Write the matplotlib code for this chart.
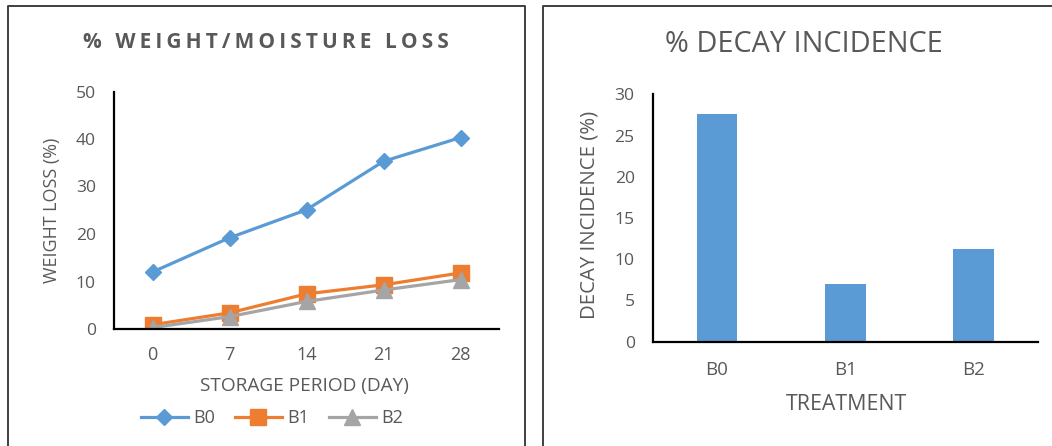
import matplotlib
matplotlib.use("Agg")
import matplotlib.pyplot as plt
from matplotlib.lines import Line2D

days = ['0', '7', '14', '21', '28']
b0_loss = [12.0, 19.2, 25.1, 35.3, 40.3]
b1_loss = [0.9, 3.4, 7.4, 9.3, 11.8]
b2_loss = [0.3, 2.6, 5.8, 8.2, 10.4]

treatments = ['B0', 'B1', 'B2']
decay = [27.6, 7.0, 11.3]

blue, orange, grey = '#5B9BD5', '#ED7D31', '#A5A5A5'
txt = '#595959'

plt.rcParams['font.family'] = ['Open Sans', 'DejaVu Sans']

fig = plt.figure(figsize=(10.52, 4.46), dpi=100)

# panel borders (two separate chart boxes)
W, H = 1052, 446
for x0, x1 in [(8, 525), (543, 1060)]:
    xs = [x0 / W, x0 / W, x1 / W, x1 / W]
    ys = [-0.01, 1 - 6 / H, 1 - 6 / H, -0.01]
    fig.add_artist(Line2D(xs, ys, color='#3f3f3f', lw=1.4, transform=fig.transFigure))


def style(ax):
    for s in ['top', 'right']:
        ax.spines[s].set_visible(False)
    for s in ['left', 'bottom']:
        ax.spines[s].set_color('black')
        ax.spines[s].set_linewidth(1.6)
    ax.tick_params(length=0, colors=txt, labelsize=12.6)


# left: weight loss lines
ax1 = fig.add_axes([114 / W, 1 - 329 / H, 385 / W, (329 - 91.5) / H])
x = range(len(days))
ax1.plot(x, b0_loss, '-D', color=blue, lw=2.3, ms=8.5, label='B0')
ax1.plot(x, b1_loss, '-s', color=orange, lw=2.3, ms=11, label='B1')
ax1.plot(x, b2_loss, '-^', color=grey, lw=2.3, ms=11, label='B2')
ax1.set_xlim(-0.5, 4.5)
ax1.set_ylim(0, 50)
ax1.set_yticks(range(0, 51, 10))
ax1.set_xticks(list(x), days)
style(ax1)
ax1.tick_params(axis='y', pad=13)
ax1.tick_params(axis='x', pad=12, labelsize=13)

title = '\u2009'.join('% WEIGHT/MOISTURE LOSS')
fig.text(266 / W, 1 - 42 / H, title, ha='center', va='center',
         fontsize=15, fontweight='bold', color=txt)
fig.text(52.5 / W, 1 - 210 / H, 'WEIGHT LOSS (%)', rotation=90, ha='center', va='center',
         fontsize=12.9, color=txt)
fig.text(304.6 / W, 1 - 386 / H, 'STORAGE PERIOD (DAY)', ha='center', va='center',
         fontsize=13.7, color=txt)
leg = fig.legend(loc='center', bbox_to_anchor=(272 / W, 1 - 418 / H), ncol=3, frameon=False,
                 fontsize=13, handlelength=2.6, handletextpad=0.3, columnspacing=1.1)
for t in leg.get_texts():
    t.set_color(txt)

# right: decay incidence bars
ax2 = fig.add_axes([652.7 / W, 1 - 341.7 / H, (1038 - 652.7) / W, (341.7 - 94.3) / H])
ax2.bar(range(len(treatments)), decay, width=0.317, color=blue)
ax2.set_xlim(-0.5, 2.5)
ax2.set_ylim(0, 30)
ax2.set_yticks(range(0, 31, 5))
ax2.set_xticks(range(len(treatments)), treatments)
style(ax2)
ax2.tick_params(axis='y', pad=13)
ax2.tick_params(axis='x', pad=14, labelsize=13.5)

fig.text(804 / W, 1 - 45 / H, '% DECAY INCIDENCE', ha='center', va='center',
         fontsize=20.8, color=txt)
fig.text(590 / W, 1 - 215 / H, 'DECAY INCIDENCE (%)', rotation=90, ha='center', va='center',
         fontsize=14.7, color=txt)
fig.text(846 / W, 1 - 405 / H, 'TREATMENT', ha='center', va='center',
         fontsize=15.4, color=txt)

fig.savefig('out.png', dpi=100)
